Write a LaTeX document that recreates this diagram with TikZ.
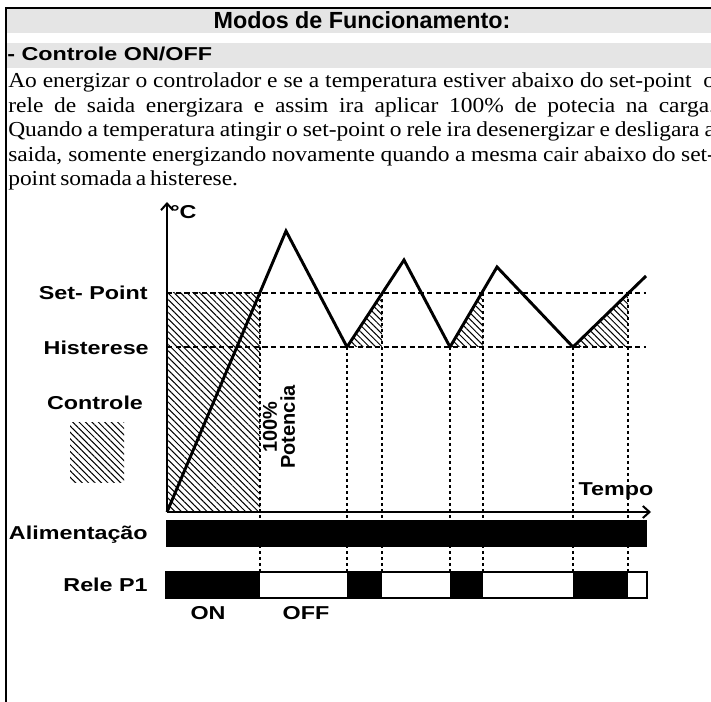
\documentclass[tikz,border=0pt]{standalone}
\usepackage{fontspec}
\setmainfont[FakeStretch=1.1]{Liberation Serif}
\newfontfamily\lblfont[FakeStretch=1.25]{Liberation Sans}
\newfontfamily\plainsans{Liberation Sans}
\usetikzlibrary{arrows.meta,patterns.meta}

\newcommand{\tightsp}{\spaceskip=0.18em plus 1em minus 0.08em\relax}
\newcommand{\jline}[1]{\makebox[530pt][s]{\tightsp #1}}

\begin{document}
\begin{tikzpicture}[x=0.75pt,y=-0.75pt,
      label/.style ={font=\lblfont\bfseries\fontsize{14}{16}\selectfont, inner sep=0pt},
      heading/.style ={font=\plainsans\bfseries\fontsize{17.5}{19}\selectfont, inner sep=0pt},
      textline/.style ={anchor=base west, inner sep=0pt, font=\fontsize{16}{18}\selectfont},
      hatch/.style ={pattern={Lines[angle=-45,distance=3.4pt,line width=0.75pt]}},
      limit/.style ={line width=0.9pt, dash pattern=on 4pt off 2.5pt},
      tick/.style ={line width=1pt, dash pattern=on 2pt off 2.5pt},
      axis/.style ={line width=1.5pt, -{Straight Barb[length=5pt,width=9pt,line width=1.5pt]}},
      curve/.style ={line width=2.2pt}]
   \useasboundingbox (0,0) rectangle (711,702);
   \clip (0,0) rectangle (711,702);

   % heading
   \fill[black!10] (7,9) rectangle (711,33);
   \fill[black!10] (7,43) rectangle (711,68);
   \draw[line width=1.5pt] (6,702) -- (6,8) -- (711,8);
   \node[heading, anchor=base] (title) at (362,29) {Modos de Funcionamento:};
   \node[label, anchor=base west] (mode) at (7,61) {- Controle ON/OFF};

   \node[textline] (l1) at (8,88) {\jline{Ao energizar o controlador e se a temperatura estiver abaixo do set-point\ \ o}};
   \node[textline] (l2) at (8,112.5) {\jline{rele de saida energizara e assim ira aplicar 100\% de potecia na carga.}};
   \node[textline] (l3) at (8,137) {\jline{Quando a temperatura atingir o set-point o rele ira desenergizar e desligara a}};
   \node[textline] (l4) at (8,161.5) {\jline{saida, somente energizando novamente quando a mesma cair abaixo do set-}};
   \node[textline] (l5) at (8,186) {\tightsp point somada a histerese.};

   % curve points
   \coordinate (O) at (167,512);
   \coordinate (P1) at (286,231);
   \coordinate (V1) at (347,347);
   \coordinate (P2) at (404,260);
   \coordinate (V2) at (450,347);
   \coordinate (P3) at (497,267);
   \coordinate (V3) at (573,347);
   \coordinate (E) at (646,276);
   \coordinate (S0) at (260,293);
   \coordinate (S1) at (382,293);
   \coordinate (S2) at (483,293);
   \coordinate (S3) at (628,293);
   \coordinate (SPa) at (167,293);
   \coordinate (SPb) at (646,293);
   \coordinate (HIa) at (167,347);
   \coordinate (HIb) at (646,347);
   \coordinate (Ytop) at (167,202);
   \coordinate (Xend) at (651,512);
   \coordinate (R) at (166,572);

   % controle areas
   \fill[hatch] (SPa) rectangle (S0 |- O);
   \fill[hatch] (V1) -- (S1) -- (S1 |- V1) -- cycle;
   \fill[hatch] (V2) -- (S2) -- (S2 |- V2) -- cycle;
   \fill[hatch] (V3) -- (S3) -- (S3 |- V3) -- cycle;
   \fill[hatch] (70,423) rectangle (124,482);

   \draw[limit] (SPa) -- (SPb);
   \draw[limit] (HIa) -- (HIb);

   \draw[tick] (S0) -- (S0 |- R);
   \draw[tick] (V1) -- (V1 |- R);
   \draw[tick] (S1) -- (S1 |- R);
   \draw[tick] (V2) -- (V2 |- R);
   \draw[tick] (S2) -- (S2 |- R);
   \draw[tick] (V3) -- (V3 |- R);
   \draw[tick] (S3) -- (S3 |- R);

   \draw[axis] (O) -- (Ytop);
   \draw[axis] (O) -- (Xend);
   \draw[curve] (O) -- (P1) -- (V1) -- (P2) -- (V2) -- (P3) -- (V3) -- (E);

   % output bars
   \fill (166,520) rectangle (647,547);
   \draw[line width=0.8pt] (R) rectangle (647,598);
   \fill (R) rectangle (S0 |- 0,598);
   \fill (V1 |- R) rectangle (S1 |- 0,598);
   \fill (V2 |- R) rectangle (S2 |- 0,598);
   \fill (V3 |- R) rectangle (S3 |- 0,598);

   % labels
   \node[label, anchor=west] (unit) at (170,212) {°C};
   \node[label] (time) at (616,491) {Tempo};
   \node[label, anchor=east] (sp) at (148,293) {Set- Point};
   \node[label, anchor=east] (hy) at (149,348) {Histerese};
   \node[label] (ctl) at (95,403) {Controle};
   \node[label, anchor=east] (pwr) at (148,535) {Alimentação};
   \node[label, anchor=east] (rl) at (148,585) {Rele P1};
   \node[label] (on) at (208,613) {ON};
   \node[label] (off) at (306,613) {OFF};
   \node[inner sep=0pt, rotate=90, align=center,
         font=\plainsans\bfseries\fontsize{15}{13.5}\selectfont] (full) at (279,427) {100\%\\Potencia};
\end{tikzpicture}
\end{document}
